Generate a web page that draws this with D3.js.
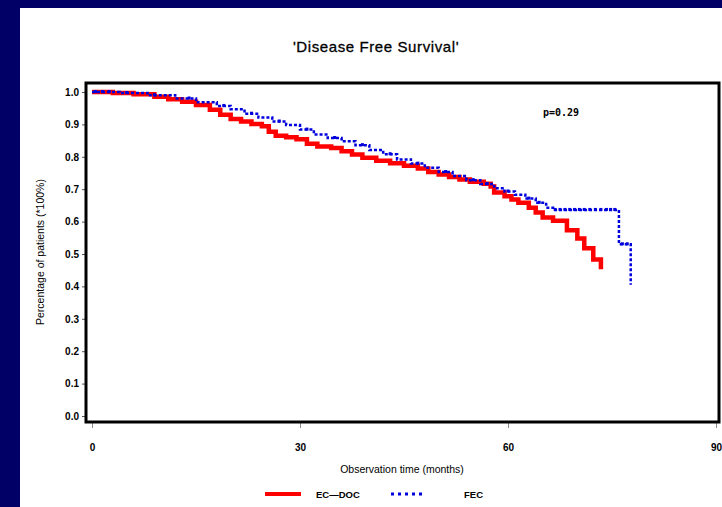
<!DOCTYPE html>
<html>
<head>
<meta charset="utf-8">
<script src="https://cdn.jsdelivr.net/npm/d3@7"></script>
<style>
  body { margin: 0; background: #000066; }
  svg { display: block; }
  text { font-family: "Liberation Sans", Arial, sans-serif; fill: #000; }
</style>
</head>
<body>
<div id="chart"></div>
<script>
(function(){

const width = 722;
const height = 507;

// x ticks (months) and y ticks (survival proportion)
const xTicks = [0, 30, 60, 90];
const yTicks = [0.0, 0.1, 0.2, 0.3, 0.4, 0.5, 0.6, 0.7, 0.8, 0.9, 1.0];

// EC-DOC arm, [month, survival] step points
const ecdocTime = [0, 3, 6, 9, 11, 13, 15, 17, 18.5, 20, 21.5, 23, 24.5, 25.5, 26.5, 28, 29.5, 31, 32.5, 34.5,
  36, 37.5, 39, 41, 43, 45, 47, 48.5, 50, 51.5, 53, 54.5, 56.5, 57.5, 58, 59.5, 60.5, 61.5, 63, 64,
  65, 66.5, 68.5, 70, 71, 72.3, 73.4];
const ecdocSurv = [1.0, 0.997, 0.993, 0.985, 0.978, 0.97, 0.96, 0.945, 0.93, 0.917, 0.909, 0.901, 0.894, 0.877, 0.865, 0.86, 0.854, 0.84, 0.832, 0.827,
  0.817, 0.807, 0.797, 0.788, 0.78, 0.772, 0.764, 0.753, 0.745, 0.738, 0.73, 0.723, 0.717, 0.708, 0.69, 0.678, 0.668, 0.658, 0.643, 0.628,
  0.613, 0.603, 0.573, 0.548, 0.518, 0.483, 0.453];

// FEC arm
const fecTime = [0, 4, 8, 12, 15, 18, 20, 22, 24, 26, 28, 30, 32, 34, 36, 38, 40, 42, 44, 46,
  48, 50, 52, 54, 56, 58, 59.5, 61, 62.5, 64, 65.5, 66.5, 76, 77.7];
const fecSurv = [1.0, 0.997, 0.99, 0.98, 0.968, 0.957, 0.947, 0.933, 0.921, 0.909, 0.898, 0.884, 0.869, 0.858, 0.848, 0.836, 0.821, 0.808, 0.792, 0.779,
  0.766, 0.753, 0.741, 0.728, 0.716, 0.703, 0.693, 0.683, 0.671, 0.658, 0.643, 0.636, 0.53, 0.405];

// FEC censored observations (months)
const fecCensor = [0.5, 1.5, 2.5, 5, 9, 14, 19, 23, 27, 31, 35, 39, 43, 47, 51, 55, 57, 60, 63, 64.5,
  66.8, 67.5, 68.2, 68.9, 69.6, 70.3, 71, 71.8, 72.6, 73.4, 74.2, 74.8, 75.4, 76.5, 77.2];

const seriesNames = ["EC\u2014DOC", "FEC"];
const pLabel = "p=0.29";

const svg = d3.select("#chart")
  .append("svg")
  .attr("width", width)
  .attr("height", height);

// navy slide background with white panel
svg.append("rect").attr("width", width).attr("height", height).attr("fill", "#000066");
svg.append("rect").attr("x", 20).attr("y", 8).attr("width", width - 20).attr("height", height - 8).attr("fill", "#fff");

const x = d3.scaleLinear().domain([0, 90]).range([92, 716]);
const y = d3.scaleLinear().domain([0, 1]).range([416, 92]);

const frame = {left: 86, top: 83, right: 719, bottom: 422};

// title
svg.append("text")
  .attr("x", 376)
  .attr("y", 52)
  .attr("text-anchor", "middle")
  .style("font-size", "15px")
  .style("letter-spacing", "0.6px")
  .style("stroke", "#000")
  .style("stroke-width", "0.3px")
  .text("'Disease Free Survival'");

// x axis (ticks below frame)
const xAxis = svg.append("g")
  .attr("transform", `translate(0,${frame.bottom})`)
  .call(d3.axisBottom(x).tickValues(xTicks).tickSize(6).tickPadding(16).tickFormat(d3.format("d")));
xAxis.select(".domain").remove();
xAxis.selectAll("line").attr("stroke", "#888");
xAxis.selectAll("text").style("font-size", "10px").style("font-weight", "bold")
  .style("font-family", "'Liberation Sans', Arial, sans-serif");

// y axis (ticks left of frame)
const yAxis = svg.append("g")
  .attr("transform", `translate(${frame.left},0)`)
  .call(d3.axisLeft(y).tickValues(yTicks).tickSize(4).tickPadding(3).tickFormat(d3.format(".1f")));
yAxis.select(".domain").remove();
yAxis.selectAll("line").attr("stroke", "#555");
yAxis.selectAll("text").style("font-size", "10px").style("font-weight", "bold")
  .style("font-family", "'Liberation Sans', Arial, sans-serif");

// axis labels
svg.append("text")
  .attr("x", 402)
  .attr("y", 473)
  .attr("text-anchor", "middle")
  .style("font-size", "10.5px")
  .text("Observation time (months)");

svg.append("text")
  .attr("transform", "rotate(-90)")
  .attr("x", -252)
  .attr("y", 44)
  .attr("text-anchor", "middle")
  .style("font-size", "10.5px")
  .text("Percentage of patients (*100%)");

// curves
const line = d3.line()
  .x(d => x(d[0]))
  .y(d => y(d[1]))
  .curve(d3.curveStepAfter);

const ecdoc = ecdocTime.map((t, i) => [t, ecdocSurv[i]]);
const fec = fecTime.map((t, i) => [t, fecSurv[i]]);

svg.append("path")
  .datum(ecdoc)
  .attr("fill", "none")
  .attr("stroke", "#ff0000")
  .attr("stroke-width", 4.5)
  .attr("d", line);

svg.append("path")
  .datum(fec)
  .attr("fill", "none")
  .attr("stroke", "#0000dd")
  .attr("stroke-width", 2.5)
  .attr("stroke-dasharray", "3,2")
  .attr("d", line);

// survival at time t on the FEC step curve
const fecAt = t => {
  const i = d3.bisectRight(fecTime, t) - 1;
  return fecSurv[Math.max(0, i)];
};

svg.selectAll(".cens")
  .data(fecCensor)
  .enter()
  .append("rect")
  .attr("class", "cens")
  .attr("x", d => x(d) - 1.5)
  .attr("y", d => y(fecAt(d)) - 2)
  .attr("width", 3)
  .attr("height", 3)
  .attr("fill", "#0000dd");

// frame
svg.append("rect")
  .attr("x", frame.left)
  .attr("y", frame.top)
  .attr("width", frame.right - frame.left)
  .attr("height", frame.bottom - frame.top)
  .attr("fill", "none")
  .attr("stroke", "#000")
  .attr("stroke-width", 3);

// p-value
svg.append("text")
  .attr("x", 543)
  .attr("y", 116)
  .style("font-family", "'DejaVu Sans Mono', 'Liberation Mono', monospace")
  .style("font-size", "10px")
  .style("font-weight", "bold")
  .text(pLabel);

// legend
const legend = svg.append("g");
legend.append("line")
  .attr("x1", 265).attr("x2", 301).attr("y1", 494).attr("y2", 494)
  .attr("stroke", "#ff0000").attr("stroke-width", 4);
legend.append("text")
  .attr("x", 316).attr("y", 498)
  .style("font-size", "9.5px").style("font-weight", "bold")
  .text(seriesNames[0]);
legend.append("line")
  .attr("x1", 391).attr("x2", 424).attr("y1", 494).attr("y2", 494)
  .attr("stroke", "#0000dd").attr("stroke-width", 3)
  .attr("stroke-dasharray", "3,4");
legend.append("text")
  .attr("x", 464).attr("y", 498)
  .style("font-size", "9.5px").style("font-weight", "bold")
  .text(seriesNames[1]);

})();
</script>
</body>
</html>
